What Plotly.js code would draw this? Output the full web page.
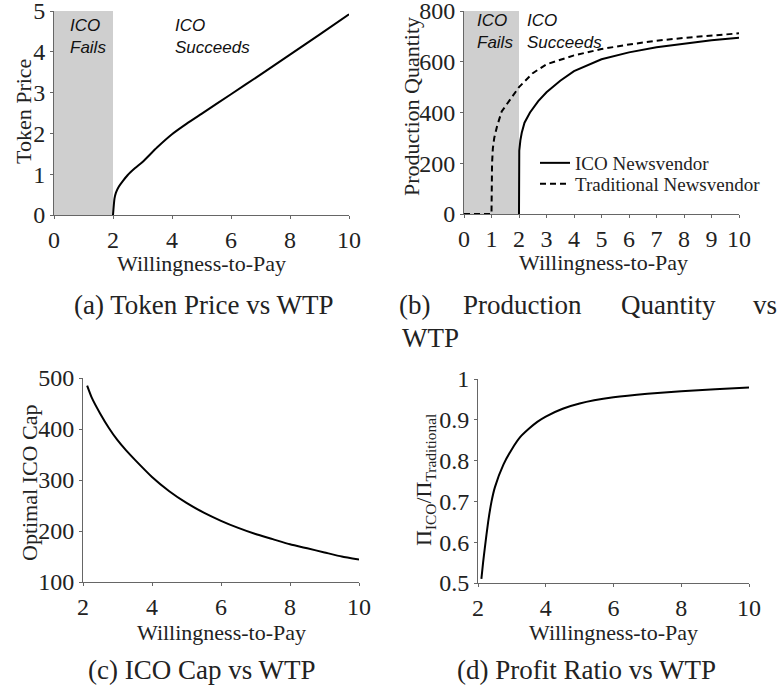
<!DOCTYPE html>
<html>
<head>
<meta charset="utf-8">
<script src="https://cdn.plot.ly/plotly-3.0.1.min.js"></script>
<style>html,body{margin:0;padding:0;background:#fff;}#chart{width:777px;height:692px;}</style>
</head>
<body>
<div id="chart"></div>
<script>
// ---------- data ----------
const failThresholdICO = 2;          // WTP below which ICO fails
// (a) Token price vs WTP
const wtpA = [2, 2.05, 2.1, 2.2, 2.3, 2.5, 2.75, 3, 3.5, 4, 4.5, 5, 6, 7, 8, 9, 10];
const tokenPrice = [0, 0.4, 0.55, 0.7, 0.8, 0.98, 1.15, 1.3, 1.66, 1.98, 2.24, 2.48, 2.96, 3.44, 3.93, 4.42, 4.92];
// (b) Production quantity vs WTP
const wtpIco = [2, 2.01, 2.05, 2.1, 2.2, 2.4, 2.7, 3, 3.5, 4, 5, 6, 7, 8, 9, 10];
const qtyIco = [0, 250, 290, 320, 360, 400, 445, 480, 525, 563, 610, 637, 657, 672, 685, 695];
const wtpTrad = [0, 1, 1.02, 1.05, 1.1, 1.2, 1.37, 1.67, 2, 2.5, 3, 4, 5, 6, 7, 8, 9, 10];
const qtyTrad = [0, 0, 200, 260, 300, 345, 404, 450, 500, 555, 590, 625, 650, 668, 683, 694, 703, 712];
// (c) Optimal ICO cap vs WTP
const wtpC = [2.12, 2.25, 2.5, 2.75, 3, 3.25, 3.5, 4, 4.5, 5, 5.5, 6, 6.5, 7, 7.5, 8, 8.5, 9, 9.5, 10];
const icoCap = [485, 462, 430, 402, 378, 358, 340, 306, 278, 255, 236, 220, 206, 194, 184, 174, 166, 158, 150, 144];
// (d) Profit ratio vs WTP
const wtpD = [2.1, 2.15, 2.2, 2.3, 2.4, 2.5, 2.75, 3, 3.25, 3.5, 3.75, 4, 4.5, 5, 6, 7, 8, 9, 10];
const profitRatio = [0.51, 0.55, 0.585, 0.65, 0.7, 0.735, 0.79, 0.828, 0.858, 0.878, 0.895, 0.908, 0.927, 0.94, 0.955, 0.964, 0.97, 0.975, 0.979];
// labels
const xLabel = 'Willingness-to-Pay';
const yLabels = ['Token Price', 'Production Quantity', 'Optimal ICO Cap', 'Π<sub>ICO</sub>/Π<sub>Traditional</sub>'];
const legendNames = ['ICO Newsvendor', 'Traditional Newsvendor'];

// ---------- layout helpers ----------
const W = 777, H = 692;
const px = x => x / W;
const py = y => 1 - y / H;
const SERIF = "'Liberation Serif', 'Times New Roman', serif";
const SANS = "'Liberation Sans', Arial, sans-serif";

const line = {color: '#000', width: 2};
const smooth = Object.assign({shape: 'spline', smoothing: 0.5}, line);
const traces = [
  {x: wtpA, y: tokenPrice, xaxis: 'x', yaxis: 'y', mode: 'lines', line: smooth, showlegend: false, cliponaxis: false},
  {x: wtpIco, y: qtyIco, xaxis: 'x2', yaxis: 'y2', mode: 'lines', line: line, name: legendNames[0], legend: 'legend', cliponaxis: false},
  {x: wtpTrad, y: qtyTrad, xaxis: 'x2', yaxis: 'y2', mode: 'lines', line: {color: '#000', width: 2, dash: '6px,4px'}, name: legendNames[1], legend: 'legend2', cliponaxis: false},
  {x: wtpC, y: icoCap, xaxis: 'x3', yaxis: 'y3', mode: 'lines', line: smooth, showlegend: false},
  {x: wtpD, y: profitRatio, xaxis: 'x4', yaxis: 'y4', mode: 'lines', line: smooth, showlegend: false}
];

function ax(domain, range, dtick, anchor) {
  return {
    domain: domain, range: range, dtick: dtick, tick0: 0, anchor: anchor,
    showgrid: false, zeroline: false, showline: true, linecolor: '#666', linewidth: 1,
    ticks: 'outside', ticklen: 3, tickcolor: '#666', tickwidth: 1,
    ticklabeloverflow: 'allow',
    tickfont: {family: SERIF, size: 24, color: '#222'}, fixedrange: true
  };
}

const annFont = (s) => ({family: SERIF, size: s, color: '#222'});
const annotations = [];
function addAnn(text, x, y, size, opts) {
  annotations.push(Object.assign({text: text, xref: 'paper', yref: 'paper', x: px(x), y: py(y),
    showarrow: false, font: annFont(size), xanchor: 'center', yanchor: 'middle'}, opts || {}));
}
// axis titles
addAnn(xLabel, 201, 263, 22);
addAnn(xLabel, 603, 262, 22);
addAnn(xLabel, 221, 632, 22);
addAnn(xLabel, 613, 632, 22);
addAnn(yLabels[0], 23, 112, 22, {textangle: -90});
addAnn(yLabels[1], 411, 107, 22, {textangle: -90});
addAnn(yLabels[2], 29, 483, 22, {textangle: -90});
addAnn(yLabels[3], 425, 480, 22, {textangle: -90});
// region labels
const it = () => ({family: SANS, size: 17, color: '#111'});
addAnn('<i>ICO<br>Fails</i>', 68, 37, 17, {xanchor: 'left', font: it(), align: 'left'});
addAnn('<i>ICO<br>Succeeds</i>', 173, 37, 17, {xanchor: 'left', font: it(), align: 'left'});
addAnn('<i>ICO<br>Fails</i>', 475, 31, 17, {xanchor: 'left', font: it(), align: 'left'});
addAnn('<i>ICO<br>Succeeds</i>', 525, 31, 17, {xanchor: 'left', font: it(), align: 'left'});
// captions
addAnn('(a) Token Price vs WTP', 204, 305, 27);
addAnn('(b)', 414, 305, 27);
addAnn('Production', 522, 305, 27);
addAnn('Quantity', 668, 305, 27);
addAnn('vs', 765, 305, 27);
addAnn('WTP', 400, 338, 27, {xanchor: 'left'});
addAnn('(c) ICO Cap vs WTP', 201, 670, 27);
addAnn('(d) Profit Ratio vs WTP', 586, 670, 27);

const shade = '#cfcfcf';
const legendBase = (yc) => ({x: px(535), y: py(yc), xanchor: 'left', yanchor: 'middle', bgcolor: 'rgba(0,0,0,0)',
  font: {family: SERIF, size: 19, color: '#222'}, borderwidth: 0});
const layout = {
  width: W, height: H,
  margin: {l: 0, r: 0, t: 0, b: 0},
  font: {family: SERIF, color: '#222'},
  paper_bgcolor: '#fff', plot_bgcolor: 'rgba(0,0,0,0)',
  xaxis: ax([px(54), px(349)], [0, 10], 2, 'y'),
  yaxis: ax([py(215), py(11)], [0, 5], 1, 'x'),
  xaxis2: ax([px(464), px(739)], [0, 10], 1, 'y2'),
  yaxis2: ax([py(214), py(11)], [0, 800], 200, 'x2'),
  xaxis3: ax([px(83), px(359)], [2, 10], 2, 'y3'),
  yaxis3: ax([py(582), py(378)], [100, 500], 100, 'x3'),
  xaxis4: ax([px(478), px(749)], [2, 10], 2, 'y4'),
  yaxis4: ax([py(583), py(379)], [0.5, 1], 0.1, 'x4'),
  shapes: [
    {type: 'rect', xref: 'x', yref: 'y domain', x0: 0, x1: failThresholdICO, y0: 0, y1: 1, fillcolor: shade, line: {width: 0}, layer: 'below'},
    {type: 'rect', xref: 'x2', yref: 'y2 domain', x0: 0, x1: failThresholdICO, y0: 0, y1: 1, fillcolor: shade, line: {width: 0}, layer: 'below'}
  ],
  showlegend: true,
  legend: legendBase(163),
  legend2: legendBase(184),
  annotations: annotations
};

Plotly.newPlot('chart', traces, layout, {staticPlot: true, displayModeBar: false});
</script>
</body>
</html>
